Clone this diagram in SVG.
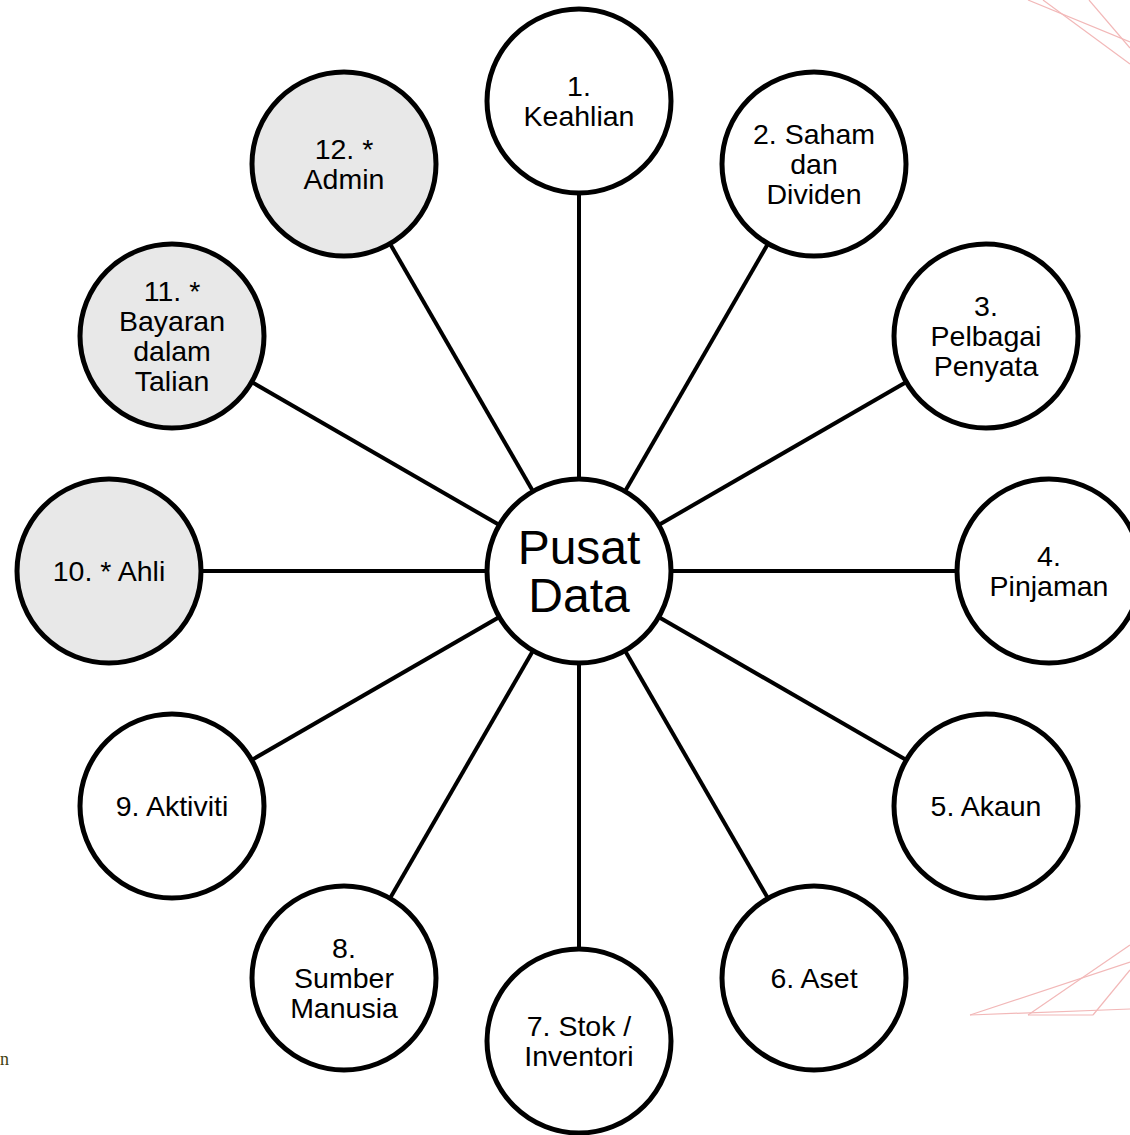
<svg xmlns="http://www.w3.org/2000/svg" width="1130" height="1135" viewBox="0 0 1130 1135">
  <style>
    .node circle { fill: #ffffff; stroke: #000000; stroke-width: 5; }
    .node.grey circle { fill: #e8e8e8; }
    .node text { font-family: "Liberation Sans", Arial, sans-serif; font-size: 28.5px; fill: #000000; text-anchor: middle; }
    #center text { font-size: 48px; }
    #connectors line { stroke: #000000; stroke-width: 4; }
    .deco line { stroke: #f2b8b8; stroke-width: 1.2; }
  </style>
  <rect width="1130" height="1135" fill="#ffffff"/>
  <g class="deco">
    <line x1="1028" y1="0" x2="1130" y2="42"/>
    <line x1="1043" y1="0" x2="1130" y2="64"/>
    <line x1="1089" y1="0" x2="1130" y2="48"/>
    <line x1="970" y1="1015" x2="1130" y2="962"/>
    <line x1="1028" y1="1015" x2="1130" y2="945"/>
    <line x1="970" y1="1015" x2="1130" y2="1009"/>
    <line x1="1028" y1="1015" x2="1093" y2="1015"/>
    <line x1="1093" y1="1015" x2="1130" y2="970"/>
  </g>
  <text x="0" y="1065" font-family="Liberation Serif, serif" font-size="18" fill="#40400f">n</text>
  <g id="connectors">
    <line x1="579" y1="571" x2="579" y2="101"/>
    <line x1="579" y1="571" x2="814" y2="164"/>
    <line x1="579" y1="571" x2="986" y2="336"/>
    <line x1="579" y1="571" x2="1049" y2="571"/>
    <line x1="579" y1="571" x2="986" y2="806"/>
    <line x1="579" y1="571" x2="814" y2="978"/>
    <line x1="579" y1="571" x2="579" y2="1041"/>
    <line x1="579" y1="571" x2="344" y2="978"/>
    <line x1="579" y1="571" x2="172" y2="806"/>
    <line x1="579" y1="571" x2="109" y2="571"/>
    <line x1="579" y1="571" x2="172" y2="336"/>
    <line x1="579" y1="571" x2="344" y2="164"/>
  </g>
  <g id="center" class="node">
    <circle cx="579" cy="571" r="92"/>
    <text x="579" y="564">Pusat</text>
    <text x="579" y="612">Data</text>
  </g>
  <g id="node1" class="node">
    <circle cx="579" cy="101" r="92"/>
    <text x="579" y="96">1.</text>
    <text x="579" y="126">Keahlian</text>
  </g>
  <g id="node2" class="node">
    <circle cx="814" cy="164" r="92"/>
    <text x="814" y="144">2. Saham</text>
    <text x="814" y="174">dan</text>
    <text x="814" y="204">Dividen</text>
  </g>
  <g id="node3" class="node">
    <circle cx="986" cy="336" r="92"/>
    <text x="986" y="316">3.</text>
    <text x="986" y="346">Pelbagai</text>
    <text x="986" y="376">Penyata</text>
  </g>
  <g id="node4" class="node">
    <circle cx="1049" cy="571" r="92"/>
    <text x="1049" y="566">4.</text>
    <text x="1049" y="596">Pinjaman</text>
  </g>
  <g id="node5" class="node">
    <circle cx="986" cy="806" r="92"/>
    <text x="986" y="816">5. Akaun</text>
  </g>
  <g id="node6" class="node">
    <circle cx="814" cy="978" r="92"/>
    <text x="814" y="988">6. Aset</text>
  </g>
  <g id="node7" class="node">
    <circle cx="579" cy="1041" r="92"/>
    <text x="579" y="1036">7. Stok /</text>
    <text x="579" y="1066">Inventori</text>
  </g>
  <g id="node8" class="node">
    <circle cx="344" cy="978" r="92"/>
    <text x="344" y="958">8.</text>
    <text x="344" y="988">Sumber</text>
    <text x="344" y="1018">Manusia</text>
  </g>
  <g id="node9" class="node">
    <circle cx="172" cy="806" r="92"/>
    <text x="172" y="816">9. Aktiviti</text>
  </g>
  <g id="node10" class="node grey">
    <circle cx="109" cy="571" r="92"/>
    <text x="109" y="581">10. * Ahli</text>
  </g>
  <g id="node11" class="node grey">
    <circle cx="172" cy="336" r="92"/>
    <text x="172" y="301">11. *</text>
    <text x="172" y="331">Bayaran</text>
    <text x="172" y="361">dalam</text>
    <text x="172" y="391">Talian</text>
  </g>
  <g id="node12" class="node grey">
    <circle cx="344" cy="164" r="92"/>
    <text x="344" y="159">12. *</text>
    <text x="344" y="189">Admin</text>
  </g>
</svg>
